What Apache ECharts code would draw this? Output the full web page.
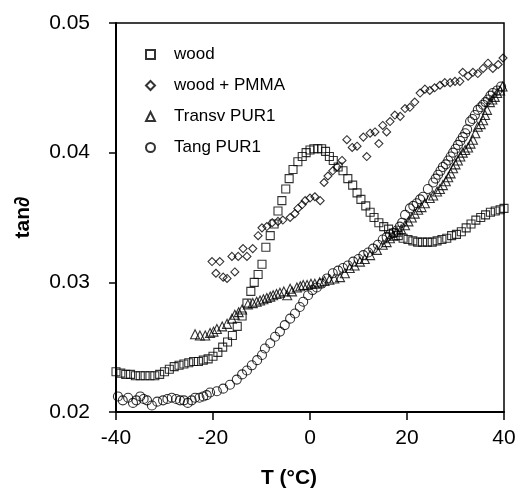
<!DOCTYPE html>
<html>
<head>
<meta charset="utf-8">
<script src="https://cdn.jsdelivr.net/npm/echarts@6/dist/echarts.min.js"></script>
<style>
  html, body { margin: 0; padding: 0; background: #fff; }
  #chart { width: 520px; height: 495px; }
</style>
</head>
<body>
<div id="chart"></div>
<script>
// [T (°C), tan delta]
const wood = [
  [-40,0.0231],[-39,0.0230],[-38,0.0229],[-37,0.0229],[-36,0.0228],[-35,0.0228],[-34,0.0228],[-33,0.0228],
  [-32,0.0228],[-31,0.0229],[-30,0.0231],[-29,0.0233],[-28,0.0235],[-27,0.0236],[-26,0.0237],[-25,0.0238],
  [-24,0.0239],[-23,0.0239],[-22,0.0240],[-21,0.0241],[-20,0.0243],[-19,0.0246],[-18,0.0250],[-17,0.0254],
  [-16,0.0259],[-15,0.0266],[-14,0.0274],[-13,0.0284],[-12.2,0.0293],[-11.5,0.0300],[-10.7,0.0306],[-9.9,0.0314],
  [-9.1,0.0327],[-8.2,0.0336],[-7.4,0.0345],[-6.6,0.0355],[-5.8,0.0363],[-5.0,0.0372],[-4.3,0.0380],[-3.5,0.0387],
  [-2.5,0.0393],[-1.6,0.0397],[-0.8,0.0400],[0,0.0402],[0.8,0.0403],[1.6,0.0403],[2.4,0.0403],[3.2,0.0401],
  [4.0,0.0397],[4.8,0.0394],[5.8,0.0389],[6.8,0.0386],[7.8,0.0380],[8.8,0.0375],[9.7,0.0369],[10.5,0.0364],
  [11.5,0.0359],[12.4,0.0354],[13.2,0.0350],[14.2,0.0346],[15.2,0.0343],[16.2,0.0341],[17.2,0.0338],[18.2,0.0336],
  [19.2,0.0334],[20.2,0.0333],[21.2,0.0332],[22.2,0.0331],[23.2,0.0331],[24.2,0.0331],[25.2,0.0331],[26.2,0.0332],
  [27.2,0.0333],[28.2,0.0334],[29.2,0.0336],[30.2,0.0337],[31.2,0.0339],[32.2,0.0342],[33.2,0.0345],[34.2,0.0348],
  [35.2,0.0350],[36.2,0.0352],[37.2,0.0354],[38.2,0.0355],[39.2,0.0356],[40,0.0357]
];

const woodPmma = [
  [-20.2,0.0316],[-19.4,0.0307],[-18.6,0.0316],[-17.9,0.0304],[-17.1,0.0303],[-16.1,0.0320],[-15.5,0.0308],
  [-14.8,0.0320],[-13.8,0.0326],[-13.0,0.0320],[-11.8,0.0326],[-10.7,0.0336],[-9.9,0.0342],[-8.9,0.0343],
  [-7.8,0.0346],[-6.6,0.0347],[-5.6,0.0348],[-4.1,0.0350],[-3.1,0.0353],[-2.5,0.0357],[-1.6,0.0360],
  [-1.0,0.0363],[0.0,0.0365],[1.0,0.0366],[2.1,0.0363],[2.9,0.0377],[3.7,0.0382],[4.7,0.0386],[5.6,0.0389],
  [6.6,0.0394],[7.6,0.0410],[8.7,0.0404],[9.7,0.0405],[11.0,0.0412],[11.7,0.0397],[12.4,0.0415],[13.4,0.0416],
  [14.2,0.0407],[15.0,0.0421],[15.8,0.0416],[16.5,0.0424],[17.5,0.0429],[18.6,0.0428],[19.6,0.0434],[20.6,0.0435],
  [21.6,0.0439],[22.7,0.0446],[23.7,0.0449],[24.7,0.0448],[25.7,0.0450],[26.8,0.0452],[27.8,0.0454],[28.9,0.0454],
  [29.9,0.0455],[30.9,0.0455],[31.5,0.0462],[32.6,0.0459],[33.6,0.0462],[34.6,0.0461],[35.7,0.0465],[36.7,0.0469],
  [37.7,0.0465],[38.8,0.0468],[39.8,0.0473]
];

const transvPur1 = [
  [-23.7,0.0260],[-22.7,0.0259],[-21.6,0.0259],[-20.6,0.0261],[-19.9,0.0262],[-19.2,0.0264],[-18.1,0.0266],
  [-17.1,0.0268],[-16.1,0.0272],[-15.5,0.0275],[-14.7,0.0277],[-14.0,0.0279],[-12.8,0.0283],[-11.8,0.0284],
  [-11.0,0.0285],[-10.3,0.0286],[-9.6,0.0287],[-8.9,0.0288],[-8.2,0.0289],[-7.6,0.0290],[-6.9,0.0291],
  [-6.2,0.0292],[-5.4,0.0293],[-4.7,0.0290],[-4.1,0.0295],[-3.7,0.0293],[-2.7,0.0296],[-2.0,0.0297],
  [-1.4,0.0298],[-0.6,0.0298],[0.2,0.0299],[1.0,0.0299],[2.0,0.0300],[3.0,0.0301],[4.0,0.0302],[5.0,0.0303],
  [6.2,0.0304],[7.2,0.0307],[8.2,0.0311],[9.2,0.0313],[10.3,0.0316],[11.3,0.0318],[12.4,0.0321],[13.8,0.0325],
  [15.0,0.0329],[15.8,0.0331],[16.5,0.0334],[17.2,0.0336],[17.9,0.0339],[18.8,0.0341],[19.6,0.0344],[20.3,0.0347],
  [21.0,0.0350],[21.6,0.0353],[22.3,0.0356],[23.0,0.0358],[23.7,0.0361],[24.7,0.0365],[25.4,0.0367],[26.2,0.0370],
  [26.8,0.0372],[27.4,0.0375],[28.0,0.0378],[28.5,0.0381],[29.0,0.0384],[29.5,0.0388],[30.0,0.0391],[30.5,0.0394],
  [31.0,0.0397],[31.5,0.0400],[32.0,0.0402],[32.6,0.0404],[33.1,0.0407],[33.6,0.0410],[34.1,0.0415],[34.6,0.0420],
  [35.2,0.0422],[35.7,0.0425],[36.1,0.0429],[36.5,0.0433],[37.1,0.0439],[37.6,0.0441],[38.1,0.0443],[38.6,0.0446],
  [39.2,0.0448],[39.7,0.0451]
];

const tangPur1 = [
  [-39.6,0.0212],[-38.6,0.0209],[-37.5,0.0211],[-36.5,0.0207],[-35.8,0.0209],[-35.0,0.0212],[-34.3,0.0210],
  [-33.6,0.0209],[-32.6,0.0205],[-31.5,0.0208],[-30.3,0.0209],[-29.4,0.0210],[-28.5,0.0211],[-27.6,0.0210],
  [-26.8,0.0209],[-26.0,0.0209],[-25.2,0.0207],[-24.4,0.0209],[-23.7,0.0211],[-22.8,0.0211],[-22.0,0.0212],
  [-21.3,0.0213],[-20.6,0.0215],[-19.2,0.0216],[-17.9,0.0218],[-16.5,0.0221],[-15.1,0.0225],[-14.0,0.0229],
  [-13.0,0.0232],[-12.0,0.0236],[-10.9,0.0240],[-9.9,0.0244],[-9.3,0.0249],[-8.2,0.0253],[-7.2,0.0258],
  [-6.2,0.0262],[-5.2,0.0267],[-4.1,0.0272],[-3.1,0.0276],[-2.1,0.0281],[-1.4,0.0285],[-0.4,0.0290],
  [0.5,0.0294],[1.4,0.0296],[2.4,0.0299],[3.5,0.0303],[4.7,0.0307],[5.8,0.0309],[6.8,0.0311],[7.8,0.0313],
  [8.9,0.0316],[10.0,0.0318],[11.0,0.0321],[12.0,0.0323],[13.0,0.0326],[14.0,0.0329],[15.0,0.0333],[15.8,0.0335],
  [16.5,0.0337],[17.2,0.0338],[17.9,0.0340],[18.5,0.0343],[19.0,0.0346],[19.6,0.0352],[20.6,0.0357],[21.3,0.0359],
  [22.0,0.0361],[22.7,0.0364],[23.3,0.0366],[24.3,0.0372],[25.4,0.0377],[25.9,0.0380],[26.4,0.0383],[26.9,0.0386],
  [27.4,0.0389],[28.0,0.0391],[28.5,0.0394],[29.0,0.0397],[29.5,0.0400],[30.0,0.0403],[30.5,0.0406],[31.0,0.0409],
  [31.5,0.0412],[32.0,0.0415],[32.4,0.0418],[33.0,0.0424],[33.5,0.0426],[34.0,0.0429],[34.6,0.0433],[35.2,0.0435],
  [35.7,0.0437],[36.2,0.0439],[36.7,0.0441],[37.2,0.0444],[37.7,0.0446],[38.6,0.0448],[39.4,0.0451]
];

const seriesNames = ['wood', 'wood + PMMA', 'Transv PUR1', 'Tang PUR1'];
const font = 'Liberation Sans, Arial, Helvetica, sans-serif';

const hollow = { color: 'rgba(0,0,0,0)', borderColor: '#000', borderWidth: 1.1 };

const chart = echarts.init(document.getElementById('chart'));
chart.setOption({
  animation: false,
  backgroundColor: '#fff',
  grid: {
    left: 116, right: 16, top: 23, bottom: 83,
    show: true, borderColor: '#000', borderWidth: 1.5, backgroundColor: 'transparent'
  },
  legend: {
    orient: 'vertical',
    left: 140, top: 41,
    itemWidth: 9, itemHeight: 9,
    itemGap: 14,
    textStyle: { fontFamily: font, fontSize: 17, color: '#000', padding: [0, 0, 0, 14] },
    data: seriesNames
  },
  xAxis: {
    type: 'value', min: -40, max: 40, interval: 20,
    name: 'T (°C)', nameLocation: 'middle', nameGap: 56,
    nameTextStyle: { fontFamily: font, fontSize: 21, fontWeight: 'bold', color: '#000', padding: [0, 42, 0, 0] },
    axisLine: { onZero: false, lineStyle: { color: '#000', width: 2 } },
    axisTick: { length: 8, lineStyle: { color: '#000', width: 1.5 } },
    axisLabel: { fontFamily: font, fontSize: 21, color: '#000', margin: 16 },
    splitLine: { show: false }
  },
  yAxis: {
    type: 'value', min: 0.02, max: 0.05, interval: 0.01,
    name: 'tan∂', nameLocation: 'middle', nameGap: 82, nameRotate: 90,
    nameTextStyle: { fontFamily: font, fontSize: 21, fontWeight: 'bold', color: '#000' },
    axisLine: { onZero: false, lineStyle: { color: '#000', width: 2 } },
    axisTick: { length: 7, lineStyle: { color: '#000', width: 1.5 } },
    axisLabel: { fontFamily: font, fontSize: 21, color: '#000', margin: 26, formatter: v => v.toFixed(2) },
    splitLine: { show: false }
  },
  series: [
    { name: seriesNames[0], type: 'scatter', symbol: 'rect', symbolSize: 8, data: wood, itemStyle: hollow },
    { name: seriesNames[1], type: 'scatter', symbol: 'diamond', symbolSize: [8, 8], data: woodPmma, itemStyle: hollow },
    { name: seriesNames[2], type: 'scatter', symbol: 'triangle', symbolSize: 9, data: transvPur1, itemStyle: hollow },
    { name: seriesNames[3], type: 'scatter', symbol: 'circle', symbolSize: 9, data: tangPur1, itemStyle: hollow }
  ]
});
</script>
</body>
</html>
